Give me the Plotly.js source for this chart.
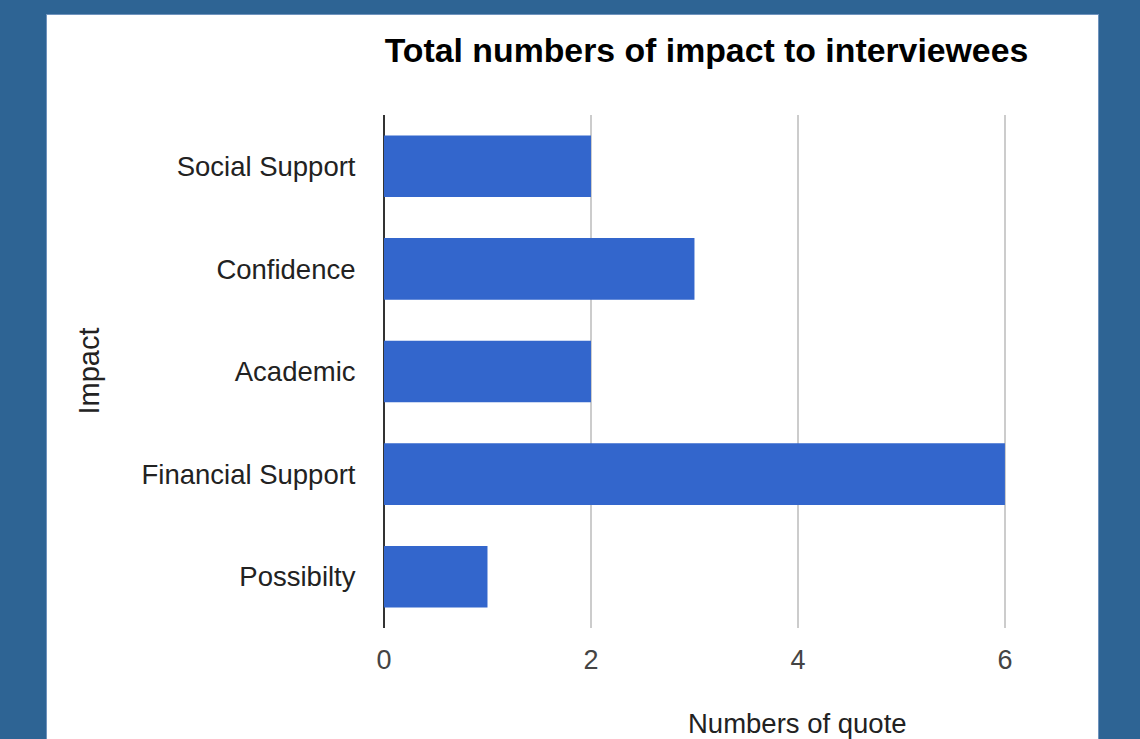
<!DOCTYPE html>
<html>
<head>
<meta charset="utf-8">
<script src="https://cdn.plot.ly/plotly-3.0.1.min.js"></script>
<style>
  html, body { margin: 0; padding: 0; width: 1140px; height: 739px; overflow: hidden; background: #2e6494; }
  #panel { position: absolute; left: 46px; top: 14px; width: 1053px; height: 725px; background: #ffffff; border-left: 1px solid #6f93bd; border-top: 1px solid #6f93bd; border-right: 1px solid #6f93bd; box-sizing: border-box; }
  #chart { position: absolute; left: 47px; top: 15px; width: 1051px; height: 724px; }
</style>
</head>
<body>
<div id="panel"></div>
<div id="chart"></div>
<script>
const categories = ["Social Support", "Confidence", "Academic", "Financial Support", "Possibilty"];
const quoteCounts = [2, 3, 2, 6, 1];
const xTickValues = [0, 2, 4, 6];
const chartTitle = "Total numbers of impact to interviewees";
const xTitle = "Numbers of quote";
const yTitle = "Impact";

const FONT = "Liberation Sans, Arial, sans-serif";

const trace = {
  type: "bar",
  orientation: "h",
  x: quoteCounts,
  y: categories,
  marker: { color: "#3366cc", line: { width: 0 } },
  hoverinfo: "x+y"
};

const layout = {
  width: 1051,
  height: 724,
  margin: { l: 337, r: 91, t: 100, b: 111 },
  paper_bgcolor: "rgba(0,0,0,0)",
  plot_bgcolor: "rgba(0,0,0,0)",
  showlegend: false,
  bargap: 0.4,
  font: { family: FONT, color: "#222" },
  title: {
    text: "<b>" + chartTitle + "</b>",
    font: { family: FONT, size: 33.8, color: "#000" },
    xref: "container", yref: "container",
    x: 0.6275, xanchor: "center",
    y: 0.951, yanchor: "middle"
  },
  xaxis: {
    range: [0, 6.02],
    tickvals: xTickValues,
    ticktext: xTickValues.map(String),
    showgrid: true,
    gridcolor: "#cccccc",
    gridwidth: 2,
    zeroline: true,
    zerolinecolor: "#333333",
    zerolinewidth: 2,
    showline: false,
    ticks: "outside",
    ticklen: 8,
    tickcolor: "rgba(0,0,0,0)",
    tickfont: { family: FONT, size: 27, color: "#444" },
    fixedrange: true
  },
  yaxis: {
    type: "category",
    categoryorder: "array",
    categoryarray: categories,
    autorange: "reversed",
    showgrid: false,
    zeroline: false,
    showline: false,
    ticks: "outside",
    ticklen: 22,
    tickcolor: "rgba(0,0,0,0)",
    tickfont: { family: FONT, size: 27.5, color: "#222" },
    fixedrange: true
  },
  annotations: [
    {
      text: xTitle,
      xref: "paper", yref: "paper",
      x: 0.6645, y: -0.186,
      xanchor: "center", yanchor: "middle",
      showarrow: false,
      font: { family: FONT, size: 27.5, color: "#222" }
    },
    {
      text: yTitle,
      xref: "paper", yref: "paper",
      x: -0.4751, y: 0.5,
      xanchor: "center", yanchor: "middle",
      textangle: -90,
      showarrow: false,
      font: { family: FONT, size: 29, color: "#222" }
    }
  ]
};

Plotly.newPlot("chart", [trace], layout, { displayModeBar: false, staticPlot: true });
</script>
</body>
</html>
